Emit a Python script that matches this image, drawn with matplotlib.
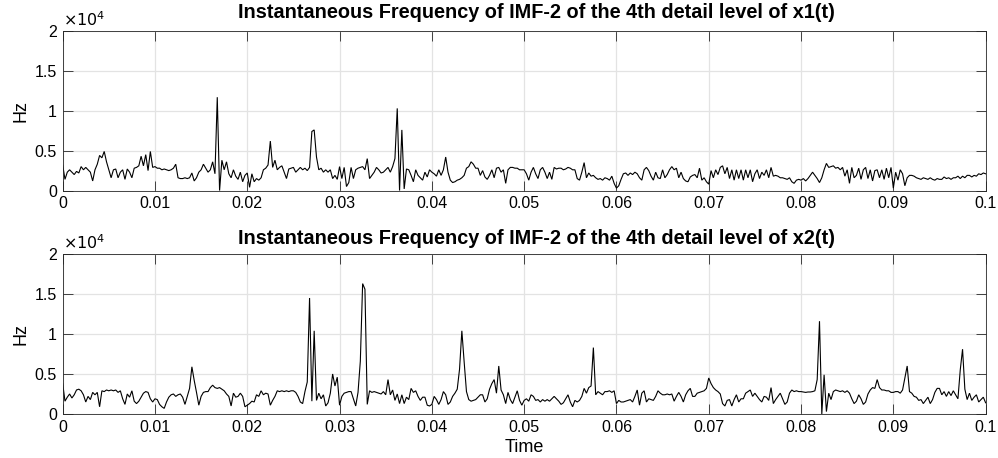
import numpy as np
import matplotlib
matplotlib.use('Agg')
import matplotlib.pyplot as plt
from matplotlib.ticker import FixedLocator, FuncFormatter

plt.rcParams['font.family'] = ['Liberation Sans', 'DejaVu Sans']

# Instantaneous frequency values in kHz, sampled every 0.25 ms from 0 to 0.1 s
x1_khz = [
    3.2,1.4,2.3,2.6,2.3,2.0,2.4,2.2,3.0,2.6,2.9,2.6,2.3,1.2,2.6,3.3,4.4,4.1,4.9,3.6,
    2.6,1.6,2.6,2.7,1.6,2.3,2.6,1.4,2.7,2.3,1.6,2.8,2.9,3.1,4.3,3.1,4.5,2.5,4.9,2.9,
    3.0,2.8,2.8,2.6,2.7,2.6,2.5,2.6,2.8,3.3,1.6,1.5,1.5,1.6,1.5,1.6,2.2,1.2,1.6,2.3,
    2.6,3.3,2.8,2.3,2.6,3.6,2.1,11.7,0.0,3.8,2.6,3.6,2.1,1.6,2.6,1.8,1.4,2.3,1.1,1.9,
    2.2,0.4,2.1,1.1,1.5,1.3,1.6,2.6,2.8,3.2,6.2,2.9,3.8,2.6,2.9,3.1,2.3,1.5,2.7,2.8,
    2.9,2.3,2.6,2.9,2.6,2.8,2.5,2.9,7.4,7.6,4.2,2.6,2.8,2.3,2.6,2.3,2.6,1.5,1.9,1.4,
    3.0,1.5,2.9,0.5,1.0,2.9,1.5,2.6,2.8,2.9,3.0,2.6,4.0,1.5,1.9,2.3,2.9,2.6,2.2,2.3,
    2.6,2.9,2.3,3.0,4.0,10.3,0.0,7.6,0.2,2.7,2.6,1.9,1.1,2.6,1.9,1.6,1.3,2.3,1.7,2.6,
    2.3,2.1,1.8,2.6,1.9,2.6,4.2,2.3,1.3,1.0,1.1,1.3,1.4,1.6,1.9,2.8,3.0,3.6,3.3,2.8,
    2.8,1.9,2.5,1.7,1.4,1.9,2.6,1.6,2.8,2.9,2.3,2.6,0.9,2.6,2.9,2.9,2.8,2.8,2.6,2.6,
    2.6,2.1,1.3,2.3,2.9,2.1,1.5,2.6,2.9,2.3,1.5,2.3,1.4,2.9,2.7,2.8,2.8,2.6,2.7,2.9,
    2.8,2.6,2.6,1.5,1.3,2.3,3.5,1.6,2.2,1.8,1.9,1.6,1.4,1.5,1.3,1.6,1.5,1.3,1.8,0.9,
    0.3,0.6,1.4,2.1,2.2,1.9,2.2,2.0,2.3,2.1,1.6,1.3,2.6,2.9,2.5,1.8,1.3,2.3,1.6,1.5,
    2.6,1.6,2.0,2.6,3.0,2.6,2.8,1.6,2.3,1.5,1.2,1.1,1.7,1.9,2.0,1.6,2.8,1.3,1.6,1.1,
    0.8,2.5,1.6,2.6,2.0,2.9,3.1,2.1,2.9,1.5,2.6,1.3,2.6,1.5,2.6,1.3,2.6,1.6,2.6,1.1,
    2.1,2.6,1.5,2.3,1.9,2.6,1.6,2.9,1.8,1.9,1.8,1.6,1.6,1.5,1.4,1.6,1.1,0.9,1.3,1.4,
    1.3,1.5,1.2,1.5,1.9,2.3,1.9,1.5,1.0,1.6,2.6,3.4,2.9,3.0,3.1,2.8,2.9,2.6,2.9,1.8,
    2.6,0.9,2.9,1.6,1.9,2.8,1.4,2.6,2.9,1.5,2.6,1.2,2.5,2.6,1.6,2.6,1.4,2.8,1.6,2.9,
    0.3,2.3,1.3,2.6,2.1,0.6,1.6,1.9,1.9,1.8,1.6,1.5,1.4,1.6,1.5,1.4,1.6,1.4,1.3,1.5,
    1.4,1.4,1.7,1.5,1.6,1.4,1.6,1.6,1.8,1.5,1.8,1.6,1.9,1.9,1.7,1.9,1.8,2.1,2.0,2.2,
    2.1,
]

x2_khz = [
    3.8,1.6,2.1,2.5,2.0,2.4,3.0,3.1,2.9,2.4,1.5,2.2,1.8,2.7,2.4,2.7,0.9,2.9,2.8,3.0,
    2.9,3.0,2.9,3.0,2.7,2.9,1.9,1.2,2.5,2.1,2.9,1.6,1.3,1.6,2.1,2.6,2.8,2.7,1.9,1.5,
    1.9,1.8,1.2,0.9,0.7,1.5,2.1,2.4,2.5,2.2,2.4,2.5,2.1,1.2,2.2,3.2,5.9,4.2,2.7,1.1,
    2.2,2.7,2.8,2.8,3.3,3.6,3.3,3.2,3.3,3.1,2.9,2.5,2.2,1.0,2.6,2.1,2.2,2.6,2.2,0.9,
    1.1,1.3,1.6,1.5,2.4,2.2,2.9,2.4,2.6,2.5,1.1,1.7,2.2,2.9,2.8,2.9,2.8,2.9,2.8,2.9,
    2.9,2.7,2.2,1.5,1.3,2.8,4.0,14.5,1.6,10.4,1.7,2.6,1.9,2.4,1.0,1.4,2.6,5.0,3.5,4.6,
    1.1,2.2,2.6,2.7,2.8,2.8,1.9,1.0,2.7,6.6,16.3,15.6,1.2,2.9,2.7,2.8,2.7,2.6,2.5,2.8,
    2.4,4.3,2.4,3.0,1.7,2.5,1.3,2.4,1.3,2.1,1.8,3.2,2.7,2.9,2.2,1.7,2.1,2.1,1.1,1.0,
    1.2,2.2,1.8,1.2,1.8,2.8,2.4,1.2,1.5,2.2,2.6,3.1,5.6,10.4,6.5,2.8,1.8,1.6,1.7,1.8,
    2.1,2.4,2.4,1.5,1.9,3.1,3.8,4.3,2.6,6.0,3.0,2.4,1.3,2.7,1.8,1.3,2.1,2.9,1.7,1.1,
    1.7,1.9,1.6,2.4,2.2,1.7,1.8,1.5,1.8,1.6,1.8,1.6,1.9,2.2,1.9,1.6,1.2,1.4,1.9,2.4,
    1.5,0.9,1.7,1.5,1.7,2.2,3.2,2.6,3.3,3.5,8.3,2.4,2.8,2.6,2.4,2.8,2.8,2.9,2.7,2.9,
    1.3,1.7,1.5,1.5,1.6,1.7,1.8,1.5,2.2,3.0,1.1,2.6,2.9,1.5,1.9,1.8,1.7,2.2,2.9,2.6,
    2.4,2.4,2.5,2.4,2.5,1.6,2.2,2.7,2.2,1.5,2.4,2.9,3.2,2.2,2.2,2.6,2.7,2.8,2.9,3.2,
    4.5,3.8,3.3,3.0,2.8,2.5,1.3,1.0,1.7,1.8,1.0,1.8,2.4,1.5,1.9,1.9,2.6,2.8,3.0,2.2,
    2.6,2.2,1.8,1.5,2.2,2.1,1.7,3.3,1.3,1.8,2.2,2.6,1.9,1.2,1.5,2.6,3.0,2.8,2.9,2.8,
    2.8,2.75,2.7,2.75,2.75,2.8,2.9,4.3,11.6,0.0,4.9,0.3,2.6,1.8,2.8,3.0,2.9,2.8,2.9,2.7,
    2.9,2.6,1.9,1.3,1.6,2.4,1.9,1.2,1.5,2.5,3.0,3.3,3.2,4.3,3.3,3.0,3.0,2.9,2.9,2.7,
    2.7,2.8,2.8,2.6,3.0,4.5,6.0,2.8,2.6,2.2,2.1,1.7,1.8,1.3,1.7,2.1,1.3,1.8,2.7,3.2,
    3.2,2.4,2.8,2.2,2.8,2.3,2.9,2.4,1.9,5.5,8.1,3.1,1.8,2.6,1.7,2.1,2.4,1.5,1.8,2.1,
    1.4,
]

x_ticks = [0, 0.01, 0.02, 0.03, 0.04, 0.05, 0.06, 0.07, 0.08, 0.09, 0.1]
x_tick_labels = ['0', '0.01', '0.02', '0.03', '0.04', '0.05', '0.06', '0.07', '0.08', '0.09', '0.1']
y_ticks = [0, 5000, 10000, 15000, 20000]
titles = ['Instantaneous Frequency of IMF-2 of the 4th detail level of x1(t)',
          'Instantaneous Frequency of IMF-2 of the 4th detail level of x2(t)']

fig = plt.figure(figsize=(9.98, 4.58), dpi=100)
ax1 = fig.add_axes([0.0628, 0.5840, 0.9248, 0.3483])
ax2 = fig.add_axes([0.0628, 0.0961, 0.9248, 0.3493])

axis_col = '#262626'
for ax, vals, title, tpad in [(ax1, x1_khz, titles[0], 9.5), (ax2, x2_khz, titles[1], 7.5)]:
    v = np.array(vals) * 1000.0
    t = np.linspace(0, 0.1, len(v))
    ax.plot(t, v, color='black', lw=0.8, solid_joinstyle='miter')
    ax.set_xlim(0, 0.1)
    ax.set_ylim(0, 20000)
    ax.xaxis.set_major_locator(FixedLocator(x_ticks))
    ax.set_xticklabels(x_tick_labels)
    ax.yaxis.set_major_locator(FixedLocator(y_ticks))
    ax.yaxis.set_major_formatter(FuncFormatter(lambda y, p: '%g' % (y / 1e4)))
    ax.grid(True, color='#e3e3e3', lw=0.9)
    ax.set_axisbelow(True)
    ax.tick_params(direction='in', length=7, width=0.6, colors=axis_col,
                   labelsize=11.5, top=True, right=True, pad=4, labelcolor='black')
    for s in ax.spines.values():
        s.set_color(axis_col)
        s.set_linewidth(0.6)
    ttl = ax.set_title(title, fontsize=14.3, fontweight='bold', pad=tpad)
    ttl.set_x(0.513)
    ax.set_ylabel('Hz', fontsize=13, labelpad=4)
    ax.text(0.0, 1.012, r'$\times10^{4}$', transform=ax.transAxes, fontsize=11.5,
            ha='left', va='bottom')

ax2.set_xlabel('Time', fontsize=13, labelpad=3)

fig.savefig('out.png', dpi=100)
